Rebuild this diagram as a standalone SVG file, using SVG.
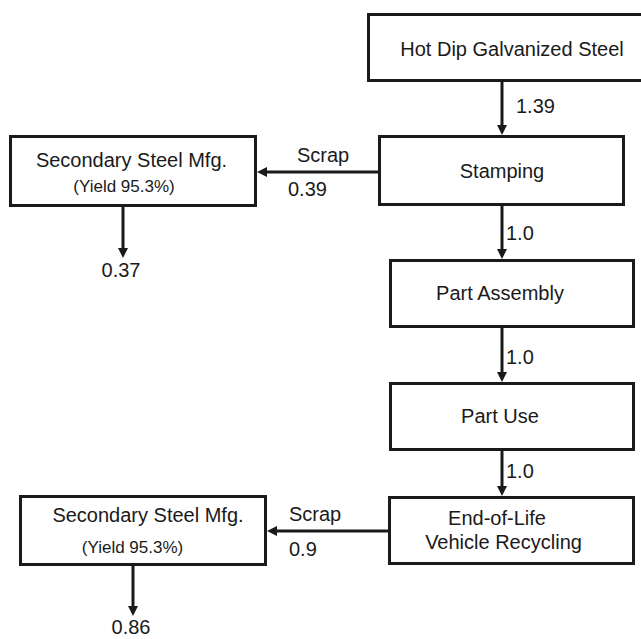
<svg xmlns="http://www.w3.org/2000/svg" width="641" height="639" viewBox="0 0 641 639">
  <style>
    .box { fill: #ffffff; stroke: #1a1a1a; stroke-width: 3; }
    .t { font-family: "Liberation Sans", Arial, sans-serif; font-size: 20px; fill: #1a1a1a; }
    .c { text-anchor: middle; }
    .s { font-size: 17px; }
    .flow { stroke: #1a1a1a; stroke-width: 3; fill: none; marker-end: url(#head); }
  </style>
  <defs>
    <marker id="head" viewBox="0 0 10 10" refX="4" refY="5" markerWidth="10" markerHeight="10" markerUnits="userSpaceOnUse" orient="auto">
      <path d="M0,0 L10,5 L0,10 z" fill="#1a1a1a"/>
    </marker>
  </defs>
  <rect width="641" height="639" fill="#ffffff"/>

  <g id="connectors">
    <line class="flow" x1="502" y1="82" x2="502" y2="129"/>
    <line class="flow" x1="502" y1="206" x2="502" y2="253"/>
    <line class="flow" x1="502" y1="328" x2="502" y2="376"/>
    <line class="flow" x1="502" y1="451" x2="502" y2="490"/>
    <line class="flow" x1="378" y1="172" x2="263" y2="172"/>
    <line class="flow" x1="388" y1="531" x2="273" y2="531"/>
    <line class="flow" x1="123" y1="207" x2="123" y2="252"/>
    <line class="flow" x1="133" y1="566" x2="133" y2="610"/>
    <text class="t" x="516" y="113">1.39</text>
    <text class="t" x="506" y="240">1.0</text>
    <text class="t" x="506" y="364">1.0</text>
    <text class="t" x="506" y="478">1.0</text>
    <text class="t" x="297" y="162">Scrap</text>
    <text class="t" x="288" y="196">0.39</text>
    <text class="t" x="289" y="521">Scrap</text>
    <text class="t" x="289" y="556">0.9</text>
    <text class="t c" x="121" y="277">0.37</text>
    <text class="t c" x="131" y="634">0.86</text>
  </g>

  <g id="hot-dip">
    <rect class="box" x="368.5" y="14.5" width="280" height="66"/>
    <text class="t c" x="512" y="56">Hot Dip Galvanized Steel</text>
  </g>
  <g id="stamping">
    <rect class="box" x="379.5" y="136.5" width="244" height="68"/>
    <text class="t c" x="502" y="178">Stamping</text>
  </g>
  <g id="secondary-1">
    <rect class="box" x="10.5" y="136.5" width="245" height="69"/>
    <text class="t c" x="131.5" y="167">Secondary Steel Mfg.</text>
    <text class="t s c" x="124" y="192">(Yield 95.3%)</text>
  </g>
  <g id="part-assembly">
    <rect class="box" x="390.5" y="260.5" width="243" height="66"/>
    <text class="t c" x="500" y="300">Part Assembly</text>
  </g>
  <g id="part-use">
    <rect class="box" x="390.5" y="383.5" width="243" height="66"/>
    <text class="t c" x="500" y="423">Part Use</text>
  </g>
  <g id="end-of-life">
    <rect class="box" x="389.5" y="497.5" width="244" height="66"/>
    <text class="t c" x="497" y="525">End-of-Life</text>
    <text class="t c" x="503.5" y="549">Vehicle Recycling</text>
  </g>
  <g id="secondary-2">
    <rect class="box" x="20.5" y="496.5" width="245" height="68"/>
    <text class="t c" x="148" y="522">Secondary Steel Mfg.</text>
    <text class="t s c" x="132.5" y="553">(Yield 95.3%)</text>
  </g>
</svg>
